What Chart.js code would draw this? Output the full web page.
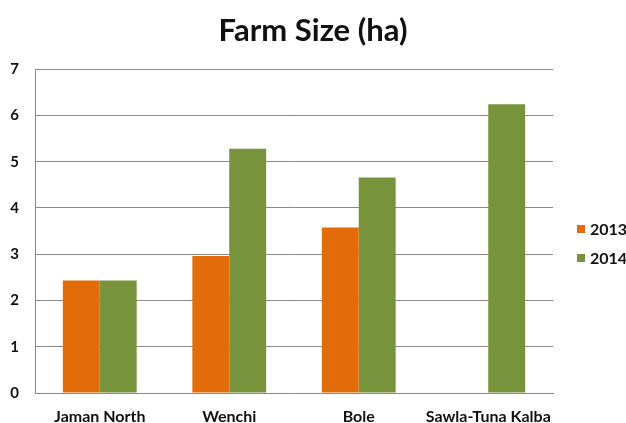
<!DOCTYPE html>
<html>
<head>
<meta charset="utf-8">
<script src="https://cdn.jsdelivr.net/npm/chart.js@4.4.1/dist/chart.umd.min.js"></script>
<style>
  html, body { margin: 0; padding: 0; background: #fff; }
  #wrap { width: 626px; height: 423px; }
</style>
</head>
<body>
<div id="wrap"><canvas id="chart" width="626" height="423"></canvas></div>
<script>
  const districts = ["Jaman North", "Wenchi", "Bole", "Sawla-Tuna Kalba"];
  const size2013 = [2.43, 2.96, 3.58, null];
  const size2014 = [2.43, 5.28, 4.66, 6.24];
  const yTicks = [0, 1, 2, 3, 4, 5, 6, 7];

  const ORANGE = "#E36C0A";
  const GREEN = "#77933C";
  const GRID = "#8a8a8a";
  const FONT = "Lato, 'Open Sans', sans-serif";

  // legend on the right, drawn by hand so it sits where the original does
  const sideLegend = {
    id: "sideLegend",
    afterDraw(chart) {
      const ctx = chart.ctx;
      const x0 = 577;
      const y0 = 229;
      const gap = 29;
      ctx.save();
      ctx.font = "bold 16px " + FONT;
      ctx.textBaseline = "middle";
      chart.data.datasets.forEach((ds, i) => {
        const y = y0 + i * gap;
        ctx.fillStyle = ds.backgroundColor;
        ctx.fillRect(x0, y - 4, 8, 8);
        ctx.fillStyle = "#111";
        ctx.fillText(ds.label, x0 + 13, y + 1);
      });
      ctx.restore();
    },
  };

  new Chart(document.getElementById("chart"), {
    type: "bar",
    data: {
      labels: districts,
      datasets: [
        { label: "2013", data: size2013, backgroundColor: ORANGE, barPercentage: 1, categoryPercentage: 0.57 },
        { label: "2014", data: size2014, backgroundColor: GREEN, barPercentage: 1, categoryPercentage: 0.57 },
      ],
    },
    options: {
      responsive: false,
      animation: false,
      events: [],
      plugins: {
        legend: { display: false },
        tooltip: { enabled: false },
        title: {
          display: true,
          text: "Farm Size (ha)",
          color: "#111",
          font: { family: FONT, size: 31, weight: "bold", lineHeight: 1.2 },
          padding: { top: 12, bottom: 20 },
        },
      },
      scales: {
        x: {
          grid: { display: false, drawTicks: false },
          border: { display: true, color: GRID, width: 1 },
          ticks: {
            color: "#111",
            padding: 14,
            maxRotation: 0,
            font: { family: FONT, size: 16, weight: "bold" },
          },
          afterFit(scale) { scale.height = 30; },
        },
        y: {
          min: 0,
          max: 7,
          afterBuildTicks(scale) { scale.ticks = yTicks.map((v) => ({ value: v })); },
          grid: { color: GRID, lineWidth: 1, drawTicks: false },
          border: { display: true, color: GRID, width: 1 },
          ticks: {
            color: "#111",
            padding: 16,
            font: { family: FONT, size: 15, weight: "bold" },
          },
          afterFit(scale) { scale.width = 35; },
        },
        // empty right-hand axis that keeps room for the legend
        side: {
          position: "right",
          grid: { display: false, drawTicks: false },
          border: { display: false },
          ticks: { display: false },
          afterFit(scale) { scale.width = 73; },
        },
      },
    },
    plugins: [sideLegend],
  });
</script>
</body>
</html>
